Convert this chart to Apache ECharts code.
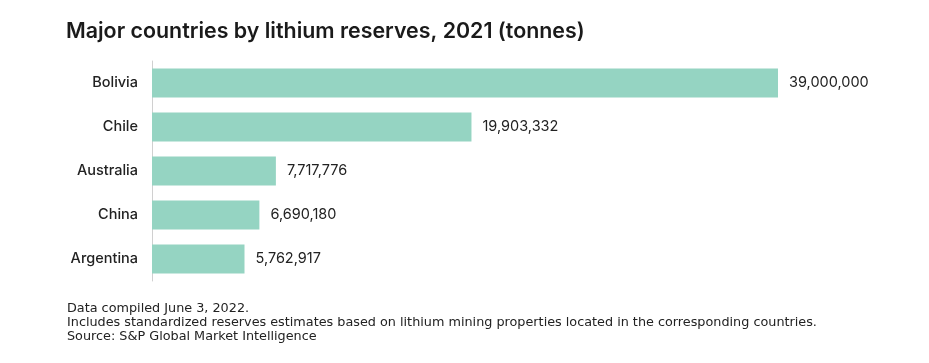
<!DOCTYPE html>
<html><head><meta charset="utf-8">
<script src="https://cdn.jsdelivr.net/npm/echarts@6/dist/echarts.min.js"></script>
<style>html,body{margin:0;padding:0;background:#fff}#c{width:929px;height:363px}</style>
</head><body><div id="c"></div>
<script>
const categories = ["Bolivia", "Chile", "Australia", "China", "Argentina"];
const reserves = [39000000, 19903332, 7717776, 6690180, 5762917];
const titleText = "Major countries by lithium reserves, 2021 (tonnes)";
const notes = ["Data compiled June 3, 2022.", "Includes standardized reserves estimates based on lithium mining properties located in the corresponding countries.", "Source: S&P Global Market Intelligence"];

const chart = echarts.init(document.getElementById('c'));
chart.setOption({
  animation: false,
  title: {
    text: titleText, left: 66, top: 21, padding: 0,
    textStyle: { fontFamily: 'Inter', fontSize: 21.4, fontWeight: 600, color: '#1a1a1a' }
  },
  graphic: notes.map((t, i) => ({
    type: 'text', left: 67, top: 302 + i * 14,
    style: { text: t, fontFamily: 'DejaVu Sans', fontSize: 12.8, fill: '#222' }
  })),
  grid: { left: 152, top: 61, width: 626, height: 220, containLabel: false },
  xAxis: { type: 'value', min: 0, max: 39000000, show: false },
  yAxis: {
    type: 'category', data: categories, inverse: true,
    axisLine: { show: true, lineStyle: { color: '#d0d0d0', width: 1 } },
    axisTick: { show: false },
    axisLabel: { margin: 14, fontFamily: 'Inter', fontSize: 14.5, fontWeight: 500, color: '#222' }
  },
  series: [{
    type: 'bar', data: reserves, barWidth: 29,
    itemStyle: { color: '#95d4c2' },
    label: {
      show: true, position: 'right', distance: 11,
      fontFamily: 'Inter', fontSize: 14.5, color: '#222',
      formatter: p => p.value.toLocaleString('en-US')
    }
  }]
});
</script></body></html>
